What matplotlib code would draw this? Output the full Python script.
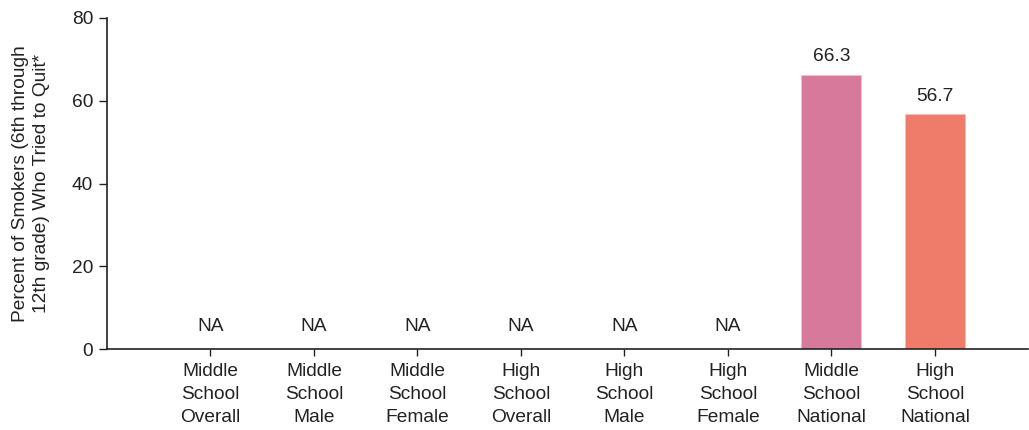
import matplotlib
matplotlib.use("Agg")
import matplotlib.pyplot as plt
import numpy as np

categories = ["Middle\nSchool\nOverall", "Middle\nSchool\nMale", "Middle\nSchool\nFemale",
              "High\nSchool\nOverall", "High\nSchool\nMale", "High\nSchool\nFemale",
              "Middle\nSchool\nNational", "High\nSchool\nNational"]
values = [None, None, None, None, None, None, 66.3, 56.7]
colors = ["#d6799a", "#d6799a", "#d6799a", "#ef7b6b", "#ef7b6b", "#ef7b6b", "#d6799a", "#ef7b6b"]
yticks = [0, 20, 40, 60, 80]

plt.rcParams['font.family'] = ['Liberation Sans', 'DejaVu Sans']
FS = 13.8
TC = "#222222"

fig = plt.figure(figsize=(10.29, 4.30), dpi=100)
ax = fig.add_axes([107/1029, 1 - 349/430, 1 - 107/1029 - 0.001, (349 - 18)/430])

x = np.arange(len(categories))
for i, v in enumerate(values):
    if v is None:
        ax.annotate("NA", (x[i], 0), xytext=(0, 10), textcoords="offset points",
                    ha="center", va="bottom", fontsize=FS, color=TC)
    else:
        ax.bar(x[i], v, width=0.58, color=colors[i], edgecolor="#f3c0cc", linewidth=0.5)
        ax.annotate(f"{v}", (x[i], v), xytext=(0, 7), textcoords="offset points",
                    ha="center", va="bottom", fontsize=FS, color=TC)

ax.set_xlim(-1.0, 7.9)
ax.set_ylim(0, 80)
ax.set_yticks(yticks)
ax.set_xticks(x)
ax.set_xticklabels(categories, fontsize=FS, color=TC, linespacing=1.48)
ax.tick_params(axis="y", labelsize=FS, labelcolor=TC, length=6, width=1, color=TC, pad=4)
ax.tick_params(axis="x", length=5, width=1, color=TC, pad=5)
for s in ["top", "right"]:
    ax.spines[s].set_visible(False)
for s in ["left", "bottom"]:
    ax.spines[s].set_color(TC)
    ax.spines[s].set_linewidth(1.2)

ax.set_ylabel("Percent of Smokers (6th through\n12th grade) Who Tried to Quit*",
              fontsize=FS, color=TC, linespacing=1.3)
ax.yaxis.set_label_coords(-0.062, 0.5)

fig.savefig("out.png", dpi=100)
